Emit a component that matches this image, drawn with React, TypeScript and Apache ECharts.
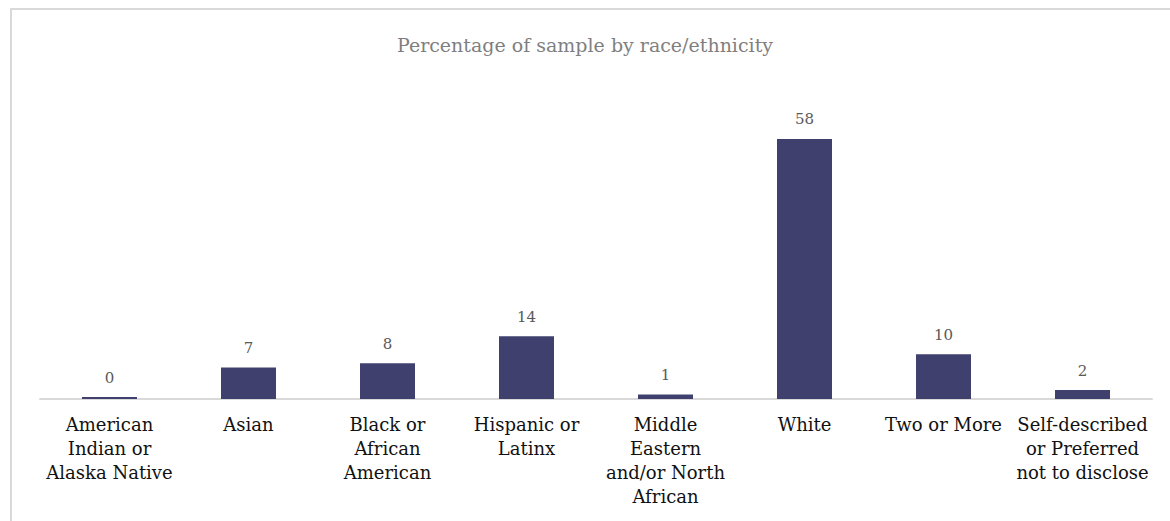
import React, { useEffect, useRef } from "react";
import * as echarts from "echarts";

const categories = [
  "American\nIndian or\nAlaska Native",
  "Asian",
  "Black or\nAfrican\nAmerican",
  "Hispanic or\nLatinx",
  "Middle\nEastern\nand/or North\nAfrican",
  "White",
  "Two or More",
  "Self-described\nor Preferred\nnot to disclose",
];

const percentages = [0, 7, 8, 14, 1, 58, 10, 2];

const chartTitle = "Percentage of sample by race/ethnicity";

const SERIF = "'DejaVu Serif', 'Liberation Serif', serif";

export default function App() {
  const ref = useRef<HTMLDivElement>(null);

  useEffect(() => {
    document.body.style.margin = "0";
    if (!ref.current) return;
    const chart = echarts.init(ref.current, undefined, { renderer: "svg" });
    chart.setOption({
      animation: false,
      backgroundColor: "#ffffff",
      title: {
        text: chartTitle,
        left: "center",
        top: 30,
        textStyle: {
          fontFamily: SERIF,
          fontSize: 19,
          fontWeight: "normal",
          color: "#7f7f7f",
        },
      },
      graphic: [
        {
          type: "rect",
          shape: { x: 11, y: 9, width: 1300, height: 700 },
          style: { fill: "none", stroke: "#d9d9d9", lineWidth: 2 },
          silent: true,
          z: -1,
        },
      ],
      grid: { left: 40, right: 18, top: 130, bottom: 122 },
      xAxis: {
        type: "category",
        data: categories,
        axisLine: { lineStyle: { color: "#d9d9d9", width: 2 } },
        axisTick: { show: false },
        axisLabel: {
          interval: 0,
          margin: 13,
          fontFamily: SERIF,
          fontSize: 18,
          lineHeight: 24,
          color: "#111111",
          align: "center",
        },
      },
      yAxis: {
        type: "value",
        min: 0,
        max: 60,
        show: false,
        splitLine: { show: false },
      },
      series: [
        {
          type: "bar",
          data: percentages,
          barWidth: 55,
          barMinHeight: 2,
          itemStyle: { color: "#40406f" },
          label: {
            show: true,
            position: "top",
            distance: 12,
            fontFamily: SERIF,
            fontSize: 15,
            color: "#595959",
          },
        },
      ],
    });
    return () => chart.dispose();
  }, []);

  return <div ref={ref} style={{ width: 1170, height: 521 }} />;
}
